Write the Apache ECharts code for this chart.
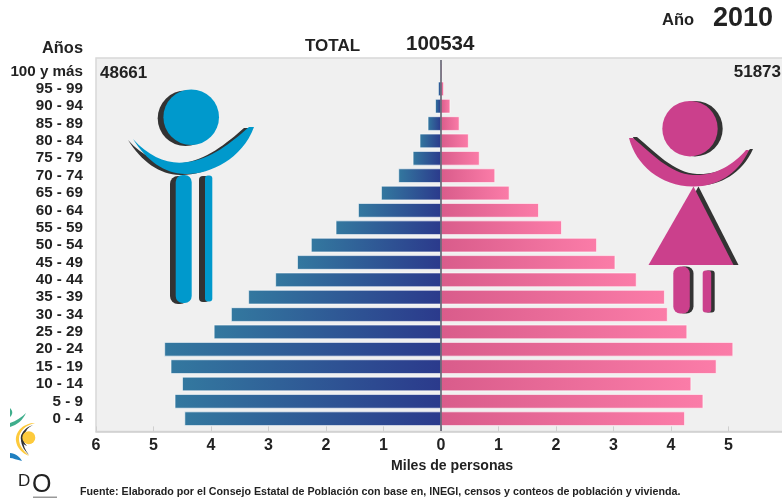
<!DOCTYPE html>
<html lang="es">
<head>
<meta charset="UTF-8" />
<title>Pirámide de población 2010</title>
<style>
html, body { margin: 0; padding: 0; background: #fff; }
#main { width: 782px; height: 500px; }
</style>
</head>
<body>
<div id="main"></div>
<script src="https://cdn.jsdelivr.net/npm/echarts@6/dist/echarts.min.js"></script>
<script>
// grupos de edad, de abajo hacia arriba
var ages = ['0 - 4', '5 - 9', '10 - 14', '15 - 19', '20 - 24', '25 - 29', '30 - 34',
	'35 - 39', '40 - 44', '45 - 49', '50 - 54', '55 - 59', '60 - 64', '65 - 69',
	'70 - 74', '75 - 79', '80 - 84', '85 - 89', '90 - 94', '95 - 99', '100 y más'];
// miles de personas
var men = [4.46, 4.63, 4.50, 4.70, 4.81, 3.95, 3.65, 3.35, 2.88, 2.50, 2.26,
	1.83, 1.44, 1.04, 0.74, 0.49, 0.37, 0.23, 0.10, 0.05, 0.01];
var women = [4.24, 4.56, 4.35, 4.79, 5.08, 4.28, 3.94, 3.89, 3.40, 3.03, 2.71,
	2.10, 1.70, 1.19, 0.94, 0.67, 0.48, 0.32, 0.16, 0.05, 0.02];
var year = '2010';
var total = '100534';
var totalMen = '48661';
var totalWomen = '51873';
var source = 'Fuente: Elaborado por el Consejo Estatal de Población con base en, INEGI, censos y conteos de población y vivienda.';

var font = '"Liberation Sans", Arial, sans-serif';
var blue = '#0099cc', pink = '#cb408c', dark = '#333333';

var shapeCount = 0;
function label(text, x, y, size, align, weight) {
	return { type: 'text', x: x, y: y, z: 10, style: {
		text: text, fill: '#222', font: (weight || 'bold') + ' ' + size + 'px ' + font,
		align: align || 'left', verticalAlign: 'middle' } };
}
// el componente graphic no acepta pathData directo: se registra cada forma
function pathEl(d, fill, dx, dy) {
	var name = 'figura' + (shapeCount++);
	echarts.graphic.registerShape(name, echarts.graphic.extendPath(d, {}));
	return { type: name, x: dx || 0, y: dy || 0, z: 1, style: { fill: fill } };
}
function circle(cx, cy, r, fill) {
	return { type: 'circle', z: 1, shape: { cx: cx, cy: cy, r: r }, style: { fill: fill } };
}
function bar(x, y, w, h, r, fill) {
	return { type: 'rect', z: 1, shape: { x: x, y: y, width: w, height: h, r: r }, style: { fill: fill } };
}

// figura del hombre: sombra a la izquierda
var manArms = 'M133,139 C150,158 170,165 187,162 C210,160 232,142 249,127 L254,127 C242,160 208,175 185,174 C165,174 146,160 133,139 Z';
var man = [
	circle(185.5, 118.3, 27.8, dark), circle(191.2, 117.2, 27.8, blue),
	pathEl(manArms, dark, -5, 1), pathEl(manArms, blue),
	bar(170, 176, 18, 128, 8, dark), bar(175.7, 175, 16, 128, 7, blue),
	bar(199, 176, 10, 126, 4, dark), bar(205, 175.5, 7.3, 126, 3, blue)
];
// figura de la mujer: sombra a la derecha
var womanArms = 'M629,138 L633,138 C650,152 670,174 693,175 C715,176 733,165 746,150 L749,150 C738,175 715,187 693,186.5 C660,186 636,165 629,138 Z';
var womanDress = 'M693.5,186.5 L733.5,265 L648.5,265 Z';
var woman = [
	circle(695, 128.7, 27.7, dark), circle(690, 128.7, 27.7, pink),
	pathEl(womanArms, dark, 4, -1), pathEl(womanArms, pink),
	pathEl(womanDress, dark, 5, 0), pathEl(womanDress, pink),
	bar(677, 266.5, 16.5, 47, 7, dark), bar(673.3, 266.5, 16.5, 47, 7, pink),
	bar(705, 270.5, 9.7, 42, 3, dark), bar(702.7, 270.5, 8.5, 42, 3, pink)
];
// logotipo, cortado por la izquierda
var logo = [
	pathEl('M10,427 C17,425 23,420 26,413 C22,417 16,421 10,423 Z', '#3fae8c'),
	pathEl('M10,408 C13,411 13,414 10,417 Z', '#3fae8c'),
	pathEl('M35,423 C24,423 15,431 16,441 C17,448 22,453 29,456 C24,451 19,446 19,439 C19,431 26,425 35,423 Z', '#fdca3c'),
	pathEl('M33,425 C26,427 21,432 21,439 C21,446 25,451 29,455 C25,450 23,445 23,439 C23,433 27,428 33,425 Z', dark),
	pathEl('M27,430 C22,432 20,436 21,440 C22,443 24,445 27,446 C24,443 23,440 23.5,437 C24,434 25,432 27,430 Z', dark),
	circle(28.8, 437.7, 6.5, '#fdca3c'),
	pathEl('M10,453 C15,453 20,457 22,461 C17,460 13,458 10,458 Z', '#1f7fc0'),
	label('D', 18, 481.5, 17, 'left', 'normal'),
	label('O', 32, 485.5, 25, 'left', 'normal'),
	bar(33, 496.5, 24, 1.5, 0, '#999')
];

var chart = echarts.init(document.getElementById('main'));
chart.setOption({
	animation: false,
	backgroundColor: '#fff',
	grid: { left: 96, top: 62.8, width: 690, height: 364.6, containLabel: false, outerBoundsMode: 'none' },
	xAxis: {
		type: 'value', min: -6, max: 6, interval: 1, offset: 4,
		splitLine: { show: false },
		axisLine: { show: true, lineStyle: { color: '#cfcfcf', width: 1.5 } },
		axisTick: { show: true, inside: true, length: 5, lineStyle: { color: '#cfcfcf' } },
		axisLabel: { color: '#222', fontFamily: font, fontWeight: 'bold', fontSize: 16, margin: 6, showMaxLabel: true, hideOverlap: false,
			formatter: function (v) { return Math.abs(v); } }
	},
	yAxis: {
		type: 'category', data: ages,
		axisLine: { show: false, onZero: false },
		axisTick: { show: false },
		axisLabel: { color: '#222', fontFamily: font, fontWeight: 'bold', fontSize: 15.2, margin: 13, interval: 0 }
	},
	series: [{
		name: 'Hombres', type: 'bar', barGap: '-100%', barCategoryGap: '18%', z: 3,
		data: men.map(function (v) { return -v; }),
		itemStyle: {
			borderColor: 'rgba(255,255,255,0.7)', borderWidth: 0.5,
			color: new echarts.graphic.LinearGradient(0, 0, 1, 0, [
				{ offset: 0, color: '#33789f' }, { offset: 1, color: '#2b3a8c' }])
		}
	}, {
		name: 'Mujeres', type: 'bar', z: 3,
		data: women,
		itemStyle: {
			borderColor: 'rgba(255,255,255,0.7)', borderWidth: 0.5,
			color: new echarts.graphic.LinearGradient(0, 0, 1, 0, [
				{ offset: 0, color: '#d95c8b' }, { offset: 1, color: '#fb7ca8' }])
		}
	}]
});

var zeroX = chart.convertToPixel({ xAxisIndex: 0 }, 0);
chart.setOption({
	graphic: [
		{ type: 'rect', z: -1, silent: true, shape: { x: 96, y: 58, width: 690, height: 373.5 },
			style: { fill: '#f0f0f0', stroke: '#d8d8d8', lineWidth: 1.5 } },
		{ type: 'line', z: 100, zlevel: 1, shape: { x1: zeroX, y1: 60, x2: zeroX, y2: 431 },
			style: { stroke: 'rgba(50,50,70,0.8)', lineWidth: 1.5 } },
		label('Año', 662, 20, 16.5),
		label(year, 713, 19, 27),
		label('TOTAL', 305, 46.5, 17),
		label(total, 406, 44.5, 20.5),
		label('Años', 83, 48, 16.4, 'right'),
		label(totalMen, 100, 73, 17),
		label(totalWomen, 781, 72, 17, 'right'),
		label('Miles de personas', 391, 466, 14.1),
		label(source, 80, 492.5, 10.7)
	].concat(man, woman, logo)
});
</script>
</body>
</html>
